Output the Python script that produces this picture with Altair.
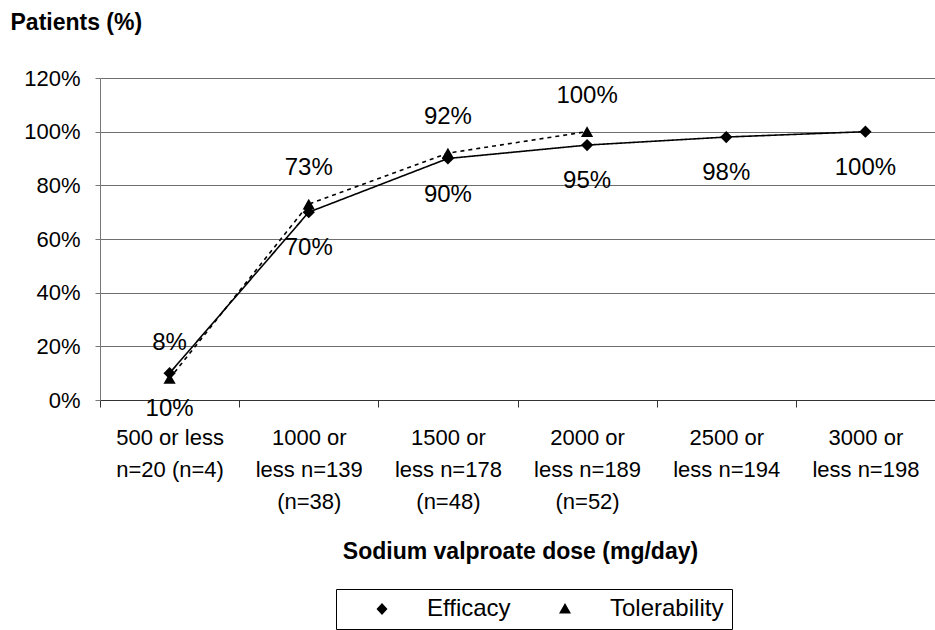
import altair as alt
import pandas as pd

# Dose categories; "|" separates the lines of each axis label
doses = [
    "500 or less|n=20 (n=4)",
    "1000 or|less n=139|(n=38)",
    "1500 or|less n=178|(n=48)",
    "2000 or|less n=189|(n=52)",
    "2500 or|less n=194",
    "3000 or|less n=198",
]
series_names = ["Efficacy", "Tolerability"]
efficacy = [0.10, 0.70, 0.90, 0.95, 0.98, 1.00]
tolerability = [0.08, 0.73, 0.92, 1.00]
y_ticks = [0, 0.2, 0.4, 0.6, 0.8, 1.0, 1.2]

rows = [{"dose": d, "series": "Efficacy", "pct": v} for d, v in zip(doses, efficacy)]
rows += [{"dose": d, "series": "Tolerability", "pct": v} for d, v in zip(doses, tolerability)]
df = pd.DataFrame(rows)

FONT = "Liberation Sans"

# Legend glyphs: a line with its marker on it (unit = 10 px at symbol size 400)
EFF_GLYPH = "M-3.8,0H3.8M-0.55,0L0,-0.6L0.55,0L0,0.6Z"
TOL_GLYPH = "M-4.1,0H4.1M-0.6,0.45L0,-0.6L0.6,0.45Z"
DASHES = [[1, 0], [4, 4]]

x_enc = alt.X(
    "dose:N",
    sort=doses,
    scale=alt.Scale(domain=doses, paddingInner=0, paddingOuter=0),
    axis=alt.Axis(
        title="Sodium valproate dose (mg/day)",
        titleFont=FONT, titleFontSize=23, titleFontWeight="bold", titleColor="black",
        titleY=158, titleX=420, titleAlign="center", titleBaseline="alphabetic",
        labelExpr="split(datum.label, '|')",
        labelFont=FONT, labelFontSize=22, labelColor="black",
        labelAngle=0, labelBaseline="top", labelLineHeight=32, labelPadding=20,
        tickBand="extent", tickSize=7, tickColor="#333333",
        domainColor="#333333", grid=False,
    ),
)
y_enc = alt.Y(
    "pct:Q",
    scale=alt.Scale(domain=[0, 1.2], nice=False),
    axis=alt.Axis(
        values=y_ticks, format=".0%",
        title="Patients (%)",
        titleFont=FONT, titleFontSize=23, titleFontWeight="bold", titleColor="black",
        titleAngle=0, titleAlign="left", titleBaseline="alphabetic",
        titleX=-90, titleY=-49,
        labelFont=FONT, labelFontSize=22, labelColor="black", labelPadding=15,
        tickSize=5, tickColor="#777777", domainColor="#777777",
        grid=True, gridColor="#6f6f6f", gridWidth=1,
    ),
)

legend_def = alt.Legend(
    title=None,
    orient="none", legendX=236, legendY=511, direction="horizontal",
    strokeColor="black", fillColor="white", padding=8,
    symbolSize=400, symbolStrokeWidth=1.5, symbolStrokeColor="black",
    symbolFillColor="black", symbolOpacity=1, symbolOffset=26,
    labelFont=FONT, labelFontSize=24, labelColor="black",
    labelOffset=33, columnPadding=10,
)
dash_scale = alt.Scale(domain=series_names, range=DASHES)

lines = alt.Chart(df).mark_line(color="black", strokeWidth=1.6).encode(
    x=x_enc,
    y=y_enc,
    detail="series:N",
    strokeDash=alt.StrokeDash("series:N", scale=dash_scale, legend=legend_def),
)

# Zero-size markers: nothing drawn in the plot, they only carry the legend glyphs
legend_layer = (
    alt.Chart(df)
    .mark_point(filled=False, color="black", fill="black", stroke="black",
                strokeWidth=1.5, size=0)
    .encode(
        x=alt.X("dose:N", sort=doses),
        y="pct:Q",
        shape=alt.Shape(
            "series:N",
            scale=alt.Scale(domain=series_names, range=[EFF_GLYPH, TOL_GLYPH]),
            legend=legend_def,
        ),
        strokeDash=alt.StrokeDash("series:N", scale=dash_scale, legend=legend_def),
    )
)

eff_points = alt.Chart(df).transform_filter(alt.datum.series == "Efficacy").mark_point(
    filled=True, size=150, color="black", opacity=1, shape="diamond"
).encode(x=alt.X("dose:N", sort=doses), y="pct:Q")

tol_points = alt.Chart(df).transform_filter(alt.datum.series == "Tolerability").mark_point(
    filled=True, size=150, color="black", opacity=1, shape="triangle-up"
).encode(x=alt.X("dose:N", sort=doses), y="pct:Q")

labels_eff = alt.Chart(df).transform_filter(alt.datum.series == "Efficacy").mark_text(
    font=FONT, fontSize=24, color="black", dy=36, baseline="middle", align="center"
).encode(x=alt.X("dose:N", sort=doses), y="pct:Q", text=alt.Text("pct:Q", format=".0%"))

labels_tol = alt.Chart(df).transform_filter(alt.datum.series == "Tolerability").mark_text(
    font=FONT, fontSize=24, color="black", dy=-36, baseline="middle", align="center"
).encode(x=alt.X("dose:N", sort=doses), y="pct:Q", text=alt.Text("pct:Q", format=".0%"))

chart = (
    alt.layer(lines, legend_layer, eff_points, tol_points, labels_eff, labels_tol)
    .properties(
        width=835,
        height=322,
        autosize=alt.AutoSizeParams(type="none"),
        padding={"left": 100, "top": 78, "right": 0, "bottom": 230},
        background="white",
    )
    .configure_view(stroke=None)
)

chart.save("out.html", embed_options={"renderer": "svg", "actions": False})
